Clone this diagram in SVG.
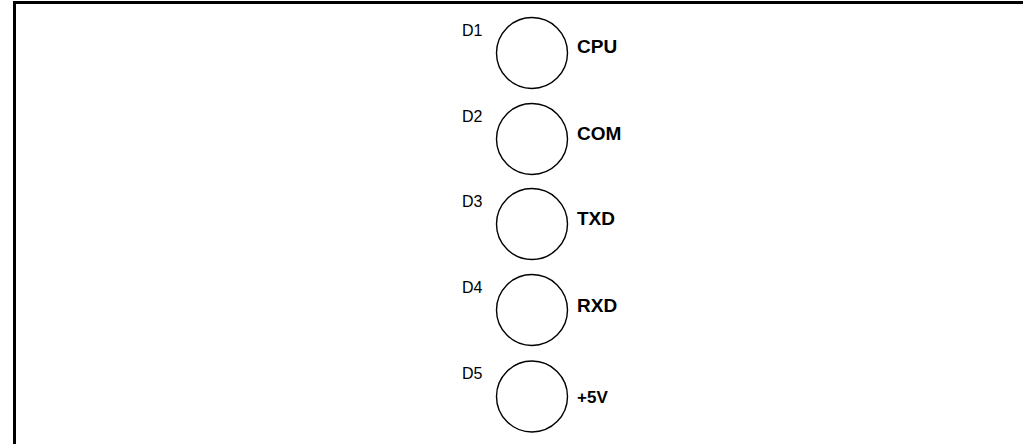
<svg xmlns="http://www.w3.org/2000/svg" width="1023" height="444" viewBox="0 0 1023 444">
<style>
.led{fill:#fff;stroke:#000;stroke-width:1.4}
.d{font-family:"Liberation Sans",Arial,sans-serif;font-size:16px;fill:#000}
.n{font-family:"Liberation Sans",Arial,sans-serif;font-size:19px;font-weight:bold;fill:#000}
.s{font-size:17px}
</style>
<rect width="1023" height="444" fill="#fff"/>
<path d="M14.5,444 V2.5 H1023" fill="none" stroke="#000" stroke-width="3"/>
<g id="connectors"/>
<g id="D1"><circle class="led" cx="532" cy="53" r="35.5"/><text class="d" x="462" y="36">D1</text><text class="n" x="577" y="53">CPU</text></g>
<g id="D2"><circle class="led" cx="532" cy="139" r="35.5"/><text class="d" x="462" y="122">D2</text><text class="n" x="577" y="140">COM</text></g>
<g id="D3"><circle class="led" cx="532" cy="224" r="35.5"/><text class="d" x="462" y="207">D3</text><text class="n" x="577" y="225">TXD</text></g>
<g id="D4"><circle class="led" cx="532" cy="310" r="35.5"/><text class="d" x="462" y="293">D4</text><text class="n" x="577" y="312">RXD</text></g>
<g id="D5"><circle class="led" cx="532" cy="396.5" r="35.5"/><text class="d" x="462" y="379">D5</text><text class="n s" x="577" y="403">+5V</text></g>
</svg>
